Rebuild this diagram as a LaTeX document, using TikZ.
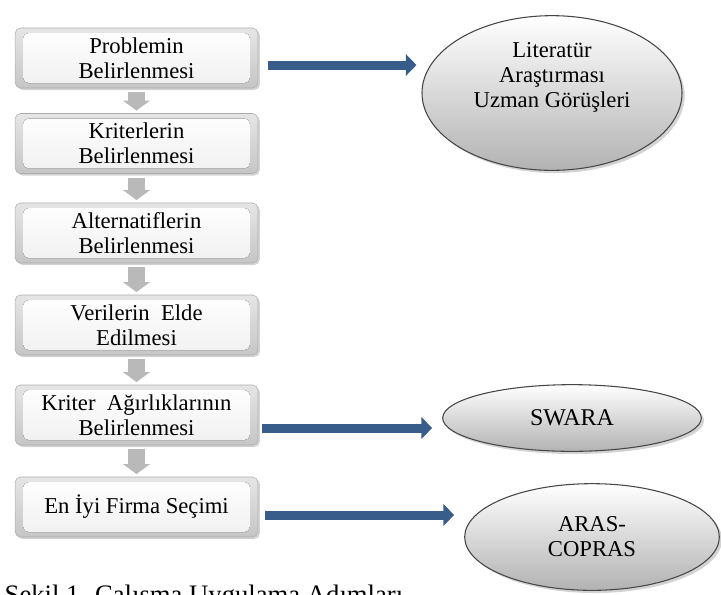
\documentclass[tikz,border=0pt]{standalone}
\usepackage{fontspec}
\setmainfont{Liberation Serif}
\usetikzlibrary{shadows}
\usetikzlibrary{shapes.geometric}
\usetikzlibrary{arrows.meta}
\definecolor{flowblue}{RGB}{56,93,138}

\begin{document}
\begin{tikzpicture}[x=0.75pt, y=-0.75pt,
    stepbox/.style={draw=gray!65, rounded corners=4pt, minimum width=182pt,
        minimum height=45pt, align=center,
        font=\fontsize{17}{18.75}\selectfont,
        top color=gray!20, bottom color=gray!45,
        drop shadow={opacity=0.35, shadow xshift=1.5pt, shadow yshift=-1.5pt},
        path picture={\fill[top color=white, bottom color=gray!12]
            ([shift={(8,5)}]path picture bounding box.north west) rectangle
            ([shift={(-8,-5)}]path picture bounding box.south east);}},
    methodell/.style={ellipse, draw=gray!55!black, thick, inner sep=0pt,
        align=center, font=\fontsize{17}{18.75}\selectfont,
        top color=white, bottom color=gray!60,
        drop shadow={opacity=0.35, shadow xshift=2pt, shadow yshift=-2pt}},
    bluearrow/.style={draw=flowblue, line width=6.75pt,
        -{Triangle[length=8pt, width=16pt]}},
    grayarrow/.style={draw=gray!55, line width=12.5pt,
        -{Triangle[length=7.5pt, width=20pt]}}]
    \useasboundingbox (0,0) rectangle (721,594);

    \node[stepbox] (b1) at (136.5,58) {Problemin\\Belirlenmesi};
    \node[stepbox] (b2) at (136.5,143.5) {Kriterlerin\\Belirlenmesi};
    \node[stepbox] (b3) at (136.5,233) {Alternatiflerin\\Belirlenmesi};
    \node[stepbox] (b4) at (136.5,325) {Verilerin\ \ Elde\\Edilmesi};
    \node[stepbox] (b5) at (136.5,415) {Kriter\ \ Ağırlıklarının\\Belirlenmesi};
    \node[stepbox] (b6) at (136.5,507) {En İyi Firma Seçimi};

    \node[methodell, minimum width=195pt, minimum height=116pt] (lit)
        at (552,93) {};
    \node[align=center, font=\fontsize{17}{18.75}\selectfont] (littext)
        at ([shift={(0,-16)}]lit.center) {Literatür\\Araştırması\\Uzman Görüşleri};
    \node[methodell, minimum width=194pt, minimum height=50pt,
        font=\fontsize{18}{19}\selectfont] (swara) at (572,418) {SWARA};
    \node[methodell, minimum width=191pt, minimum height=80pt] (aras)
        at (592,537) {ARAS-\\COPRAS};

    \foreach \a/\b in {b1/b2, b2/b3, b3/b4, b4/b5, b5/b6}
        \draw[grayarrow, shorten <=3pt, shorten >=2pt] (\a.south) -- (\b.north);

    \draw[bluearrow, shorten <=7.5pt, shorten >=3.75pt]
        ([shift={(0,7)}]b1.east) -- ([shift={(0,7)}]b1.east -| lit.west);
    \draw[bluearrow, shorten <=3pt, shorten >=7.5pt]
        ([shift={(0,13)}]b5.east) -- ([shift={(0,13)}]b5.east -| swara.west);
    \draw[bluearrow, shorten <=5.25pt, shorten >=7.5pt]
        ([shift={(0,8)}]b6.east) -- ([shift={(0,8)}]b6.east -| aras.west);

    \node[anchor=base west, font=\fontsize{20}{22}\selectfont] (caption)
        at (0,603) {Şekil 1. Çalışma Uygulama Adımları};
\end{tikzpicture}
\end{document}
